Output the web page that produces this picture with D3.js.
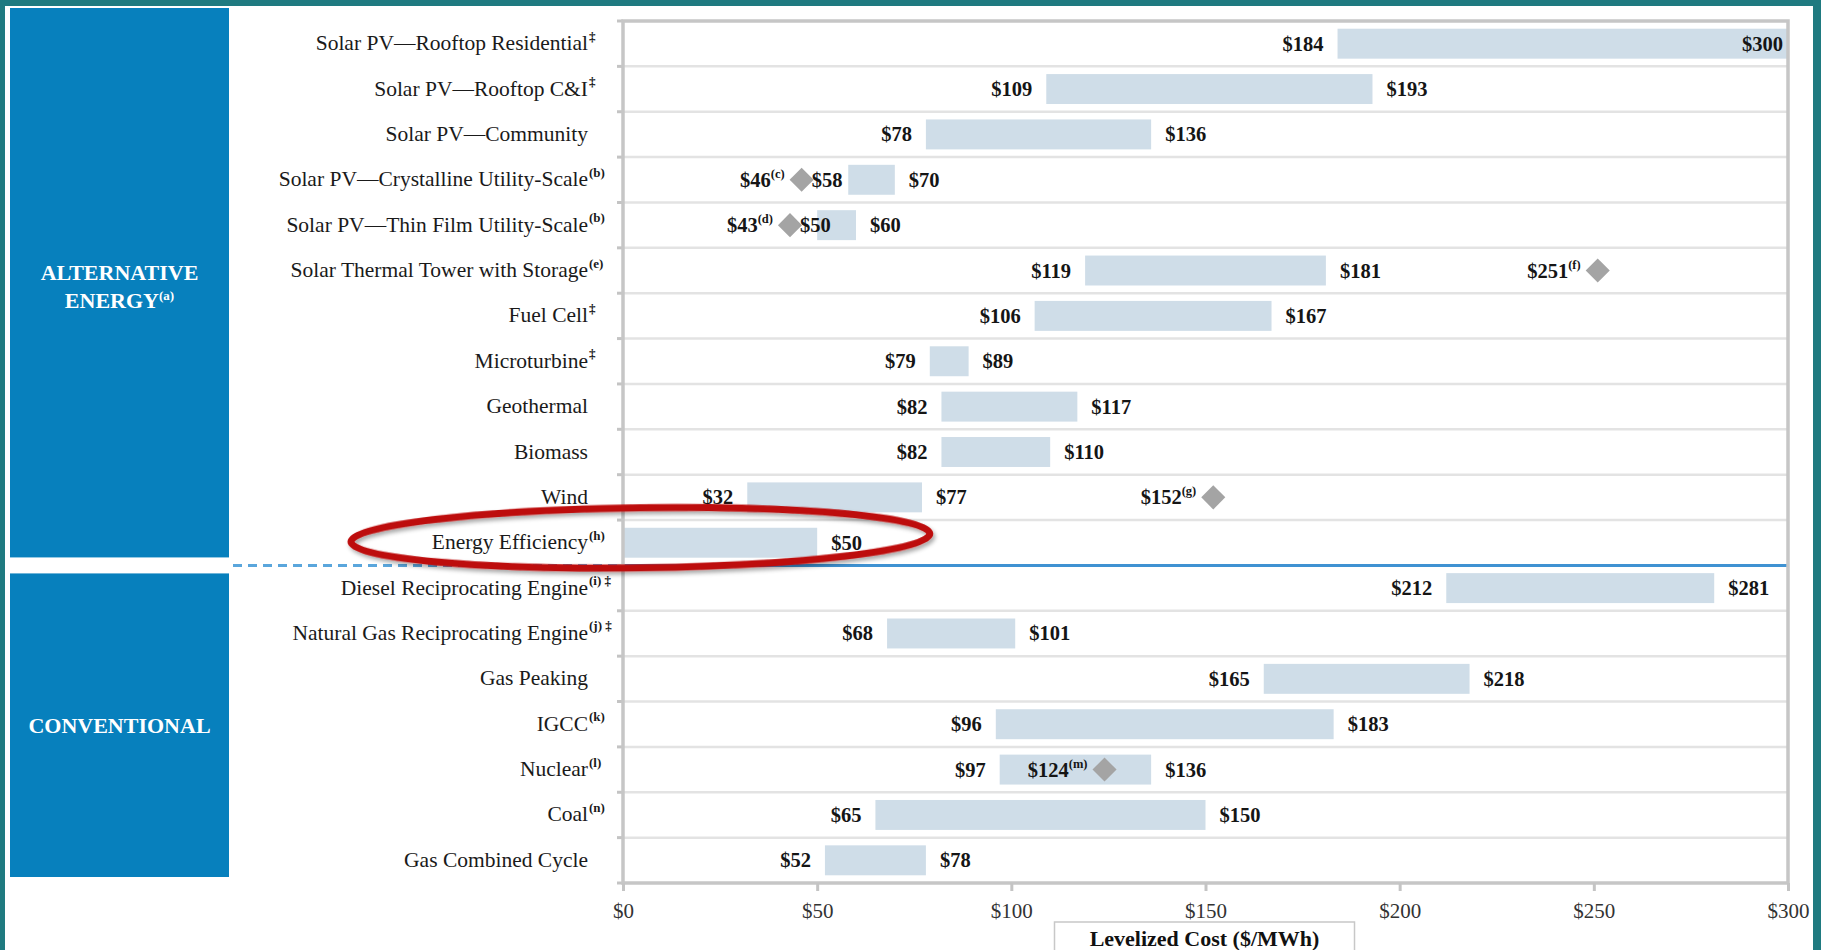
<!DOCTYPE html>
<html>
<head>
<meta charset="utf-8">
<script src="https://cdn.jsdelivr.net/npm/d3@7"></script>
<style>
  html, body { margin: 0; padding: 0; background: #1f7a80; overflow: hidden; }
  svg { display: block; }
</style>
</head>
<body>
<svg id="chart" width="1821" height="950"></svg>
<script>
// Levelized cost of energy ranges ($/MWh) by technology
const categories = [
  "Solar PV\u2014Rooftop Residential",
  "Solar PV\u2014Rooftop C&I",
  "Solar PV\u2014Community",
  "Solar PV\u2014Crystalline Utility-Scale",
  "Solar PV\u2014Thin Film Utility-Scale",
  "Solar Thermal Tower with Storage",
  "Fuel Cell",
  "Microturbine",
  "Geothermal",
  "Biomass",
  "Wind",
  "Energy Efficiency",
  "Diesel Reciprocating Engine",
  "Natural Gas Reciprocating Engine",
  "Gas Peaking",
  "IGCC",
  "Nuclear",
  "Coal",
  "Gas Combined Cycle"
];
const categoryNotes = [
  "\u2021", "\u2021", "", "(b)", "(b)", "(e)", "\u2021", "\u2021", "", "", "", "(h)",
  "(i) \u2021", "(j) \u2021", "", "(k)", "(l)", "(n)", ""
];
const lowCost  = [184, 109, 78, 58, 50, 119, 106, 79, 82, 82, 32, 0, 212, 68, 165, 96, 97, 65, 52];
const highCost = [300, 193, 136, 70, 60, 181, 167, 89, 117, 110, 77, 50, 281, 101, 218, 183, 136, 150, 78];

// Single-point estimates shown as diamonds
const markerCategories = [
  "Solar PV\u2014Crystalline Utility-Scale",
  "Solar PV\u2014Thin Film Utility-Scale",
  "Solar Thermal Tower with Storage",
  "Wind",
  "Nuclear"
];
const markerValues = [46, 43, 251, 152, 124];
const markerNotes = ["(c)", "(d)", "(f)", "(g)", "(m)"];

const xTicks = [0, 50, 100, 150, 200, 250, 300];
const groupAlternativeLines = ["ALTERNATIVE", "ENERGY"];
const groupAlternativeNote = "(a)";
const groupConventional = "CONVENTIONAL";
const alternativeCount = 12;
const axisTitle = "Levelized Cost ($/MWh)";
const highlighted = "Energy Efficiency";

// ---------------------------------------------------------------
const W = 1821, H = 950;
const serif = "'Liberation Serif', 'Times New Roman', serif";
const svg = d3.select("#chart");

const defs = svg.append("defs");
const shadow = defs.append("filter").attr("id", "ringShadow")
  .attr("x", "-10%").attr("y", "-40%").attr("width", "120%").attr("height", "180%");
shadow.append("feDropShadow").attr("dx", 2).attr("dy", 3).attr("stdDeviation", 2)
  .attr("flood-color", "#000").attr("flood-opacity", 0.35);

// white page inside the teal frame
svg.append("rect").attr("x", 5).attr("y", 6).attr("width", 1808).attr("height", H - 6).attr("fill", "#ffffff");

const plot = { left: 623, right: 1788, top: 21, bottom: 883 };
const x = d3.scaleLinear().domain([0, 300]).range([plot.left, plot.right]);
const y = d3.scaleBand().domain(categories).range([plot.top, plot.bottom])
  .paddingInner(0.34).paddingOuter(0.17);
const step = y.step();
const bw = y.bandwidth();
const rowTop = c => y(c) - (step - bw) / 2;
const rowMid = c => y(c) + bw / 2;

const rows = categories.map((c, i) => ({
  name: c, note: categoryNotes[i], low: lowCost[i], high: highCost[i]
}));
const markers = markerCategories.map((c, i) => ({
  name: c, value: markerValues[i], note: markerNotes[i]
}));

// group side panels
const sepCat = categories[alternativeCount];
const sepY = rowTop(sepCat);
const panelX = 10, panelW = 219;
svg.append("rect").attr("x", panelX).attr("y", 8)
  .attr("width", panelW).attr("height", sepY - 8 - 8).attr("fill", "#0780bd");
svg.append("rect").attr("x", panelX).attr("y", sepY + 8)
  .attr("width", panelW).attr("height", plot.bottom - 6 - (sepY + 8)).attr("fill", "#0780bd");

const altMid = (8 + sepY - 8) / 2;
const gAlt = svg.append("g").attr("fill", "#fff").attr("font-family", serif)
  .attr("font-weight", "bold").attr("font-size", 22).attr("text-anchor", "middle");
gAlt.append("text").attr("x", panelX + panelW / 2).attr("y", altMid - 3).text(groupAlternativeLines[0]);
const t2 = gAlt.append("text").attr("x", panelX + panelW / 2).attr("y", altMid + 25);
t2.append("tspan").text(groupAlternativeLines[1]);
t2.append("tspan").attr("font-size", 13).attr("dy", -8).text(groupAlternativeNote);

const convMid = (sepY + 8 + plot.bottom - 6) / 2;
svg.append("text").attr("x", panelX + panelW / 2).attr("y", convMid + 8)
  .attr("fill", "#fff").attr("font-family", serif).attr("font-weight", "bold")
  .attr("font-size", 22).attr("text-anchor", "middle").text(groupConventional);

// row separators
const boundaries = d3.range(1, categories.length).map(i => rowTop(categories[i]));
svg.append("g").selectAll("line").data(boundaries.filter(b => b !== sepY)).join("line")
  .attr("x1", plot.left).attr("x2", plot.right).attr("y1", d => d).attr("y2", d => d)
  .attr("stroke", "#e3e3e3").attr("stroke-width", 2.5);

// left axis ticks at row boundaries
svg.append("g").selectAll("line").data([plot.top, ...boundaries, plot.bottom]).join("line")
  .attr("x1", plot.left - 6).attr("x2", plot.left).attr("y1", d => d).attr("y2", d => d)
  .attr("stroke", "#c4c4c4").attr("stroke-width", 3);

// range bars
svg.append("g").selectAll("rect").data(rows).join("rect")
  .attr("x", d => x(d.low)).attr("y", d => y(d.name))
  .attr("width", d => x(d.high) - x(d.low)).attr("height", bw)
  .attr("fill", "#cfdde8");

// group separator: dashed across the label area, solid in the plot
svg.append("line").attr("x1", 233).attr("x2", plot.left - 4).attr("y1", sepY).attr("y2", sepY)
  .attr("stroke", "#5aa6dc").attr("stroke-width", 3).attr("stroke-dasharray", "9,6");
svg.append("line").attr("x1", plot.left).attr("x2", plot.right).attr("y1", sepY).attr("y2", sepY)
  .attr("stroke", "#3f92d2").attr("stroke-width", 3);

// frame
svg.append("rect").attr("x", plot.left).attr("y", plot.top)
  .attr("width", plot.right - plot.left).attr("height", plot.bottom - plot.top)
  .attr("fill", "none").attr("stroke", "#c6c6c6").attr("stroke-width", 3.5);

// x axis
const xAxis = svg.append("g").attr("transform", `translate(0,${plot.bottom})`)
  .call(d3.axisBottom(x).tickValues(xTicks).tickFormat(d => "$" + d).tickSize(8));
xAxis.select(".domain").remove();
xAxis.selectAll(".tick line").attr("stroke", "#c4c4c4").attr("stroke-width", 3);
xAxis.selectAll(".tick text").attr("y", 35).attr("dy", 0)
  .attr("font-family", serif).attr("font-size", 21).attr("fill", "#333");

// axis title box, centred under the middle of the scale
const titleX = x((x.domain()[0] + x.domain()[1]) / 2) - 1;
svg.append("rect").attr("x", titleX - 150).attr("y", 922).attr("width", 300).attr("height", 40)
  .attr("fill", "#fff").attr("stroke", "#c8c8c8").attr("stroke-width", 1.5);
svg.append("text").attr("x", titleX).attr("y", 946).attr("text-anchor", "middle")
  .attr("font-family", serif).attr("font-weight", "bold").attr("font-size", 22)
  .attr("fill", "#111").text(axisTitle);

// category labels
const labelRight = 588;
const gLab = svg.append("g").attr("font-family", serif).attr("fill", "#1a1a1a");
gLab.selectAll("text.cat").data(rows).join("text").attr("class", "cat")
  .attr("x", labelRight).attr("y", d => rowMid(d.name) + 6.5)
  .attr("text-anchor", "end").attr("font-size", 21.5).text(d => d.name);
gLab.selectAll("text.note").data(rows.filter(d => d.note)).join("text").attr("class", "note")
  .attr("x", labelRight + 1).attr("y", d => rowMid(d.name) - 3)
  .attr("font-size", 13).attr("font-weight", "bold").text(d => d.note);

// value labels
const vFont = 20.5;
const gVal = svg.append("g").attr("font-family", serif).attr("font-weight", "bold")
  .attr("font-size", vFont).attr("fill", "#151515");
const markerByName = new Map(markers.map(m => [m.name, m]));

rows.forEach(d => {
  const cy = rowMid(d.name) + 7;
  if (d.low > 0) {
    const m = markerByName.get(d.name);
    if (m && m.value < d.low) {
      gVal.append("text").attr("x", x(m.value) + 10).attr("y", cy)
        .attr("text-anchor", "start").text("$" + d.low);
    } else {
      gVal.append("text").attr("x", x(d.low) - 14).attr("y", cy)
        .attr("text-anchor", "end").text("$" + d.low);
    }
  }
  const hiText = "$" + d.high;
  if (x(d.high) + 14 + 45 > plot.right) {
    gVal.append("text").attr("x", x(d.high) - 5).attr("y", cy)
      .attr("text-anchor", "end").text(hiText);
  } else {
    gVal.append("text").attr("x", x(d.high) + 14).attr("y", cy)
      .attr("text-anchor", "start").text(hiText);
  }
});

// point-estimate diamonds with labels
const diamond = d3.symbol().type(d3.symbolSquare).size(290);
svg.append("g").selectAll("path").data(markers).join("path")
  .attr("d", diamond)
  .attr("transform", d => `translate(${x(d.value)},${rowMid(d.name)}) rotate(45)`)
  .attr("fill", "#a4a4a4");

markers.forEach(m => {
  const t = gVal.append("text").attr("x", x(m.value) - 17).attr("y", rowMid(m.name) + 7)
    .attr("text-anchor", "end");
  t.append("tspan").text("$" + m.value);
  t.append("tspan").attr("font-size", 12.5).attr("dy", -9).text(m.note);
});

// highlight ring around the energy efficiency row
const ringCy = rowMid(highlighted) - 5;
const ringLeft = 351, ringRight = x(79);
svg.append("ellipse")
  .attr("cx", (ringLeft + ringRight) / 2).attr("cy", ringCy)
  .attr("rx", (ringRight - ringLeft) / 2).attr("ry", 30)
  .attr("transform", `rotate(-0.8 ${(ringLeft + ringRight) / 2} ${ringCy})`)
  .attr("fill", "none").attr("stroke", "#bd0a0a").attr("stroke-width", 7)
  .attr("filter", "url(#ringShadow)");
</script>
</body>
</html>
